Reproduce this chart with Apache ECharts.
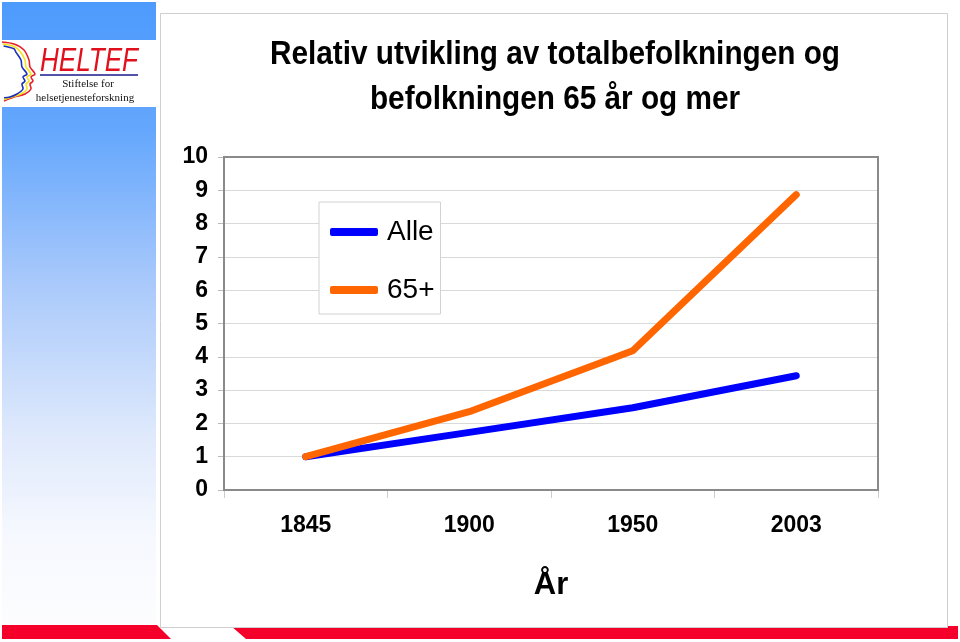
<!DOCTYPE html>
<html>
<head>
<meta charset="utf-8">
<script src="https://cdn.jsdelivr.net/npm/echarts@6/dist/echarts.min.js"></script>
<style>
html,body{margin:0;padding:0;background:#fff;}
#chart{width:960px;height:642px;}
</style>
</head>
<body>
<div id="chart"></div>
<script>
var categories = ['1845', '1900', '1950', '2003'];
var alle = [1.0, 1.73, 2.47, 3.43];
var over65 = [1.0, 2.35, 4.18, 8.87];
var yTicks = [0, 1, 2, 3, 4, 5, 6, 7, 8, 9, 10];
var seriesNames = ['Alle', '65+'];
var titleLines = ['Relativ utvikling av totalbefolkningen og', 'befolkningen 65 år og mer'];
var xAxisName = 'År';

var SANS = "'Liberation Sans', Arial, sans-serif";

function measure(text, font) {
  var c = document.createElement('canvas').getContext('2d');
  c.font = font;
  return c.measureText(text).width;
}
var TITLE_FONT = 'bold 34px ' + SANS;
var titleScale = 570 / measure(titleLines[0], TITLE_FONT);
var LOGO_FONT = 'italic 33px ' + SANS;
var logoScale = 98 / measure('HELTEF', LOGO_FONT);

var chart = echarts.init(document.getElementById('chart'), null, {renderer: 'canvas'});

var face = function (dx) {
  return [[2 + dx * 0.2, 42 + dx * 0.5], [14, 44 + dx * 0.6], [24 - dx, 50 + dx * 0.3], [29 - dx, 60], [30 - dx, 67],
          [35 - dx, 74], [31 - dx, 77], [33 - dx, 81], [30 - dx, 84], [31 - dx, 89], [25 - dx, 94], [14 - dx * 0.5, 97],
          [4, 101 - dx * 0.4]];
};

var option = {
  backgroundColor: '#ffffff',
  animation: false,
  graphic: [
    {type: 'rect', z: -10, shape: {x: 2, y: 2, width: 154, height: 624},
     style: {fill: new echarts.graphic.LinearGradient(0, 0, 0, 1, [
       {offset: 0, color: '#4d9bfd'}, {offset: 0.2, color: '#63a6fd'}, {offset: 0.45, color: '#a9c9fb'},
       {offset: 0.7, color: '#e0eafc'}, {offset: 0.85, color: '#f5f8fe'}, {offset: 1, color: '#fdfdff'}])}},
    {type: 'rect', z: -9, shape: {x: 2, y: 40, width: 154, height: 67}, style: {fill: '#ffffff'}},
    {type: 'polyline', z: -8, shape: {points: face(0), smooth: 0.3}, style: {stroke: '#e5202a', lineWidth: 1.6, fill: null}},
    {type: 'polyline', z: -8, shape: {points: face(4), smooth: 0.3}, style: {stroke: '#f2e21a', lineWidth: 1.6, fill: null}},
    {type: 'polyline', z: -8, shape: {points: face(8), smooth: 0.3}, style: {stroke: '#1b2fb8', lineWidth: 1.6, fill: null}},
    {type: 'text', z: -7, x: 40, y: 45, scaleX: logoScale, style: {text: 'HELTEF', fill: '#e0101c', font: LOGO_FONT}},
    {type: 'line', z: -7, shape: {x1: 40, y1: 75, x2: 138, y2: 75}, style: {stroke: '#1a1a8c', lineWidth: 1.5}},
    {type: 'text', z: -7, x: 88, y: 84, style: {text: 'Stiftelse for', fill: '#111', font: '11px "Liberation Serif", serif', textAlign: 'center', textVerticalAlign: 'middle'}},
    {type: 'text', z: -7, x: 85, y: 98, style: {text: 'helsetjenesteforskning', fill: '#111', font: '11px "Liberation Serif", serif', textAlign: 'center', textVerticalAlign: 'middle'}},
    {type: 'polygon', z: -10, shape: {points: [[2, 625], [157, 625], [171, 639], [2, 639]]}, style: {fill: '#f5002b'}},
    {type: 'polygon', z: -10, shape: {points: [[231, 626], [958, 626], [958, 639], [246, 639]]}, style: {fill: '#f5002b'}},
    {type: 'rect', z: -6, shape: {x: 160.5, y: 13.5, width: 787, height: 614}, style: {fill: '#ffffff', stroke: '#cfcfcf', lineWidth: 1}},
    {type: 'text', z: 5, x: 555, y: 55, scaleX: titleScale, style: {text: titleLines[0], fill: '#000', font: TITLE_FONT, textAlign: 'center', textVerticalAlign: 'middle'}},
    {type: 'text', z: 5, x: 555, y: 100, scaleX: titleScale, style: {text: titleLines[1], fill: '#000', font: TITLE_FONT, textAlign: 'center', textVerticalAlign: 'middle'}}
  ],
  grid: {left: 224, right: 82, top: 157, bottom: 152, show: true, borderColor: '#8a8a8a', borderWidth: 2, backgroundColor: 'transparent', z: 2},
  legend: {
    orient: 'vertical', left: 319, top: 202,
    data: seriesNames,
    icon: 'roundRect', itemWidth: 48, itemHeight: 8, itemGap: 28,
    padding: [15, 6, 9, 11],
    borderColor: '#d2d2d2', borderWidth: 1, backgroundColor: '#ffffff',
    textStyle: {fontFamily: SANS, fontSize: 28, lineHeight: 30, color: '#000', padding: [0, 0, 0, 4]},
    z: 10
  },
  xAxis: {
    type: 'category', data: categories, boundaryGap: true,
    name: xAxisName, nameLocation: 'middle', nameGap: 80,
    nameTextStyle: {fontFamily: SANS, fontWeight: 'bold', fontSize: 31, color: '#000'},
    axisLine: {show: true, lineStyle: {color: '#8a8a8a', width: 2}},
    axisTick: {show: true, length: 8, inside: false, lineStyle: {color: '#cccccc'}},
    axisLabel: {fontFamily: SANS, fontWeight: 'bold', fontSize: 23, color: '#000', margin: 24},
    splitLine: {show: false}
  },
  yAxis: {
    type: 'value', min: yTicks[0], max: yTicks[yTicks.length - 1], interval: 1,
    axisLine: {show: true, lineStyle: {color: '#8a8a8a', width: 2}},
    axisTick: {show: true, length: 6, lineStyle: {color: '#bbbbbb'}},
    axisLabel: {fontFamily: SANS, fontWeight: 'bold', fontSize: 23, color: '#000', margin: 16},
    splitLine: {show: true, lineStyle: {color: '#d9d9d9', width: 1}}
  },
  series: [
    {name: seriesNames[0], type: 'line', data: alle, showSymbol: false, symbol: 'none', color: '#0000ff',
     lineStyle: {width: 7, color: '#0000ff', cap: 'round', join: 'round'}, z: 3},
    {name: seriesNames[1], type: 'line', data: over65, showSymbol: false, symbol: 'none', color: '#ff6600',
     lineStyle: {width: 7, color: '#ff6600', cap: 'round', join: 'round'}, z: 4}
  ]
};
chart.setOption(option);
</script>
</body>
</html>
